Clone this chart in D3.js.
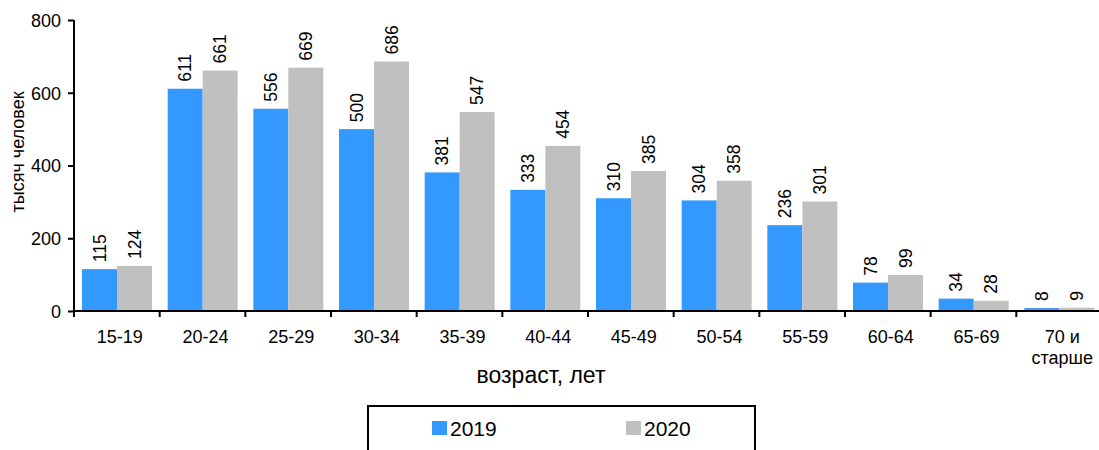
<!DOCTYPE html>
<html>
<head>
<meta charset="utf-8">
<script src="https://cdn.jsdelivr.net/npm/d3@7"></script>
<style>
  body { margin: 0; background: #fff; }
  text { font-family: "Liberation Sans", Arial, sans-serif; fill: #000; }
</style>
</head>
<body>
<div id="chart"></div>
<script>
let ages = ['15-19', '20-24', '25-29', '30-34', '35-39', '40-44', '45-49', '50-54', '55-59', '60-64', '65-69', '70 и|старше']
let years = ['2019', '2020']
let v2019 = [115, 611, 556, 500, 381, 333, 310, 304, 236, 78, 34, 8]
let v2020 = [124, 661, 669, 686, 547, 454, 385, 358, 301, 99, 28, 9]
let yTicks = [0, 200, 400, 600, 800]
let colors = ['#3399ff', '#c0c0c0']

function main () {
  let width = 1099
  let height = 450
  let svg = d3.select('#chart').append('svg').attr('width', width).attr('height', height)

  let x = d3.scaleBand().domain(ages).range([74, 1102]).paddingInner(0).paddingOuter(0)
  let sub = d3.scaleBand().domain(years).range([8, 78])
  let y = d3.scaleLinear().domain([0, 800]).range([311, 20])

  let rows = ages.map((a, i) => ({ age: a, vals: [v2019[i], v2020[i]] }))

  let groups = svg.selectAll('g.grp').data(rows).enter().append('g')
    .attr('class', 'grp')
    .attr('transform', (d) => 'translate(' + x(d.age) + ',0)')

  groups.selectAll('rect').data((d) => d.vals.map((v, j) => ({ v: v, yr: years[j], j: j })))
    .enter().append('rect')
    .attr('x', (d) => sub(d.yr))
    .attr('y', (d) => y(d.v))
    .attr('width', sub.bandwidth())
    .attr('height', (d) => y(0) - y(d.v))
    .attr('fill', (d) => colors[d.j])

  groups.selectAll('text.val').data((d) => d.vals.map((v, j) => ({ v: v, yr: years[j] })))
    .enter().append('text')
    .attr('class', 'val')
    .attr('transform', (d) => 'translate(' + (sub(d.yr) + sub.bandwidth() / 2 + 6) + ',' + (y(d.v) - 7) + ') rotate(-90)')
    .attr('font-size', 17.5)
    .text((d) => d.v)

  // y axis
  let yAxis = d3.axisLeft(y).tickValues(yTicks).tickSize(6).tickPadding(7)
  let ya = svg.append('g').attr('transform', 'translate(74,0)').call(yAxis)
  ya.select('.domain').attr('stroke', '#000').attr('stroke-width', 2).attr('d', 'M0,20V311')
  ya.selectAll('.tick line').attr('stroke-width', 2)
  ya.selectAll('.tick text').attr('font-size', 18).attr('font-family', '"Liberation Sans", Arial, sans-serif').attr('dy', '0.35em')

  // x axis
  let xAxis = d3.axisBottom(x).tickSize(0).tickFormat('')
  let xa = svg.append('g').attr('transform', 'translate(0,311)').call(xAxis)
  xa.select('.domain').attr('stroke', '#000').attr('stroke-width', 2).attr('d', 'M74,0H1102')
  xa.selectAll('.tick').remove()
  xa.selectAll('line.sep').data(ages).enter().append('line')
    .attr('class', 'sep')
    .attr('x1', (d) => x(d)).attr('x2', (d) => x(d))
    .attr('y1', 0).attr('y2', 6)
    .attr('stroke', '#000').attr('stroke-width', 2)

  let lbl = xa.selectAll('text.cat').data(ages).enter().append('text')
    .attr('class', 'cat')
    .attr('text-anchor', 'middle')
    .attr('font-size', 18)
    .attr('x', (d) => x(d) + x.bandwidth() / 2 + 3)
    .attr('y', 32)
  lbl.selectAll('tspan').data((d) => d.split('|').map((s) => ({ s: s, d: d })))
    .enter().append('tspan')
    .attr('x', (t) => x(t.d) + x.bandwidth() / 2 + 3)
    .attr('dy', (t, i) => i === 0 ? 0 : 21)
    .text((t) => t.s)

  svg.append('text').attr('x', 541).attr('y', 383).attr('text-anchor', 'middle').attr('font-size', 23).text('возраст, лет')
  svg.append('text').attr('transform', 'translate(24,152) rotate(-90)').attr('text-anchor', 'middle').attr('font-size', 18).text('тысяч человек')

  // legend
  let lg = svg.append('g')
  lg.append('rect').attr('x', 368).attr('y', 406).attr('width', 387).attr('height', 60)
    .attr('fill', 'none').attr('stroke', '#000').attr('stroke-width', 2)
  let lx = [432, 626]
  years.forEach((yr, i) => {
    lg.append('rect').attr('x', lx[i]).attr('y', 421).attr('width', 15).attr('height', 14).attr('fill', colors[i])
    lg.append('text').attr('x', lx[i] + 18).attr('y', 436).attr('font-size', 21).text(yr)
  })
}

main()
</script>
</body>
</html>
